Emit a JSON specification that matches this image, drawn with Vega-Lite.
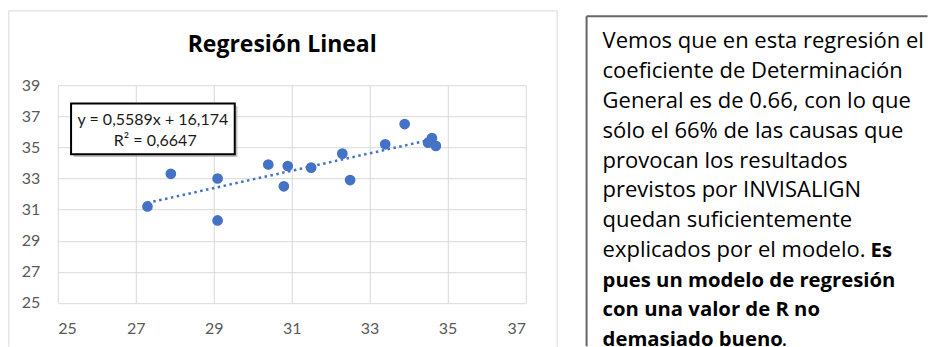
{
  "$schema": "https://vega.github.io/schema/vega-lite/v6.json",
  "padding": {"left": 7.8, "top": 10.2, "right": 0, "bottom": 0},
  "background": "white",
  "spacing": 27.8,
  "config": {"view": {"stroke": null}, "font": "Lato"},
  "datasets": {
    "points": [
      {"x": 27.3, "y": 31.2}, {"x": 27.9, "y": 33.3}, {"x": 29.1, "y": 33.0},
      {"x": 29.1, "y": 30.3}, {"x": 30.4, "y": 33.9}, {"x": 30.9, "y": 33.8},
      {"x": 30.8, "y": 32.5}, {"x": 31.5, "y": 33.7}, {"x": 32.3, "y": 34.6},
      {"x": 32.5, "y": 32.9}, {"x": 33.4, "y": 35.2}, {"x": 33.9, "y": 36.5},
      {"x": 34.5, "y": 35.3}, {"x": 34.6, "y": 35.6}, {"x": 34.7, "y": 35.1}
    ],
    "notes": [
      {"line": 1, "text": "Vemos que en esta regresión el", "part": "normal"},
      {"line": 2, "text": "coeficiente de Determinación", "part": "normal"},
      {"line": 3, "text": "General es de 0.66, con lo que", "part": "normal"},
      {"line": 4, "text": "sólo  el 66% de las causas que", "part": "normal"},
      {"line": 5, "text": "provocan los resultados", "part": "normal"},
      {"line": 6, "text": "previstos por INVISALIGN", "part": "normal"},
      {"line": 7, "text": "quedan suficientemente", "part": "normal"},
      {"line": 8, "text": "explicados por el modelo.", "part": "normal"},
      {"line": 8, "text": "Es", "part": "boldtail"},
      {"line": 9, "text": "pues un modelo de regresión", "part": "bold"},
      {"line": 10, "text": "con una valor de R no", "part": "bold"},
      {"line": 11, "text": "demasiado bueno", "part": "bold"},
      {"line": 11, "text": ".", "part": "normaltail"}
    ]
  },
  "hconcat": [
    {
      "width": 467.7,
      "height": 217.7,
      "layer": [
        {
          "data": {"name": "points"},
          "mark": {"type": "circle", "size": 0, "opacity": 0},
          "encoding": {
            "x": {"field": "x", "type": "quantitative", "scale": {"domain": [25, 37], "nice": false, "zero": false},
              "axis": {"values": [25, 27, 29, 31, 33, 35, 37], "tickCount": 7, "title": null, "grid": true, "gridColor": "#d9d9d9", "gridWidth": 1, "domain": false, "ticks": false, "tickSize": 0, "labelOverlap": false, "labelFont": "Lato", "labelFontSize": 16, "labelColor": "#595959", "labelPadding": 18}},
            "y": {"field": "y", "type": "quantitative", "scale": {"domain": [25, 39], "nice": false, "zero": false},
              "axis": {"values": [25, 27, 29, 31, 33, 35, 37, 39], "tickCount": 8, "title": null, "grid": true, "gridColor": "#d9d9d9", "gridWidth": 1, "domain": false, "ticks": false, "tickSize": 0, "labelOverlap": false, "labelFont": "Lato", "labelFontSize": 16, "labelColor": "#595959", "labelPadding": 18}}
          }
        },
        {
          "data": {"values": [{}]},
          "mark": {"type": "rule", "color": "#d9d9d9", "strokeWidth": 1},
          "encoding": {
            "x": {"datum": 23.743, "type": "quantitative"},
            "x2": {"datum": 37.813},
            "y": {"datum": 43.778, "type": "quantitative"}
          }
        },
        {
          "data": {"values": [{}]},
          "mark": {"type": "rule", "color": "#d9d9d9", "strokeWidth": 1},
          "encoding": {
            "x": {"datum": 23.743, "type": "quantitative"},
            "y": {"datum": 43.778, "type": "quantitative"},
            "y2": {"datum": 22.183}
          }
        },
        {
          "data": {"values": [{}]},
          "mark": {"type": "rule", "color": "#d9d9d9", "strokeWidth": 1},
          "encoding": {
            "x": {"datum": 37.813, "type": "quantitative"},
            "y": {"datum": 43.778, "type": "quantitative"},
            "y2": {"datum": 22.183}
          }
        },
        {
          "data": {"values": [{}]},
          "mark": {"type": "text", "text": "Regresión Lineal", "font": "Open Sans", "fontSize": 23, "fontWeight": "bold", "color": "#000000", "align": "center", "baseline": "alphabetic"},
          "encoding": {
            "x": {"datum": 30.758, "type": "quantitative"},
            "y": {"datum": 41.103, "type": "quantitative"}
          }
        },
        {
          "data": {"name": "points"},
          "transform": [{"regression": "y", "on": "x"}],
          "mark": {"type": "line", "color": "#4472C4", "strokeWidth": 2.5, "strokeDash": [2.5, 3.5], "strokeCap": "butt"},
          "encoding": {
            "x": {"field": "x", "type": "quantitative"},
            "y": {"field": "y", "type": "quantitative"}
          }
        },
        {
          "data": {"name": "points"},
          "mark": {"type": "circle", "size": 115, "color": "#4472C4", "opacity": 1},
          "encoding": {
            "x": {"field": "x", "type": "quantitative"},
            "y": {"field": "y", "type": "quantitative"}
          }
        },
        {
          "data": {"values": [{}]},
          "mark": {"type": "rect", "color": "#7f7f7f", "opacity": 0.45},
          "encoding": {
            "x": {"datum": 25.41, "type": "quantitative"},
            "x2": {"datum": 29.61},
            "y": {"datum": 37.64, "type": "quantitative"},
            "y2": {"datum": 34.38}
          }
        },
        {
          "data": {"values": [{}]},
          "mark": {"type": "rect", "fill": "#ffffff", "stroke": "#000000", "strokeWidth": 2},
          "encoding": {
            "x": {"datum": 25.34, "type": "quantitative"},
            "x2": {"datum": 29.54},
            "y": {"datum": 37.82, "type": "quantitative"},
            "y2": {"datum": 34.56}
          }
        },
        {
          "data": {"values": [{}]},
          "mark": {"type": "text", "text": "y = 0,5589x + 16,174", "font": "Lato", "fontSize": 16, "color": "#1a1a1a", "align": "center", "baseline": "middle"},
          "encoding": {
            "x": {"datum": 27.44, "type": "quantitative"},
            "y": {"datum": 36.75, "type": "quantitative"}
          }
        },
        {
          "data": {"values": [{}]},
          "mark": {"type": "text", "text": "R² = 0,6647", "font": "Lato", "fontSize": 16, "color": "#1a1a1a", "align": "center", "baseline": "middle"},
          "encoding": {
            "x": {"datum": 27.5, "type": "quantitative"},
            "y": {"datum": 35.4, "type": "quantitative"}
          }
        }
      ]
    },
    {
      "width": 342,
      "height": 261,
      "data": {"name": "notes"},
      "layer": [
        {
          "data": {"values": [{}]},
          "mark": {"type": "rule", "color": "#666666", "strokeWidth": 2},
          "encoding": {
            "x": {"datum": 0, "type": "quantitative", "scale": {"domain": [0, 1], "nice": false, "zero": false}, "axis": null},
            "y": {"datum": -0.085, "type": "quantitative", "scale": {"domain": [2.233, 11.0], "reverse": true, "nice": false, "zero": false}, "axis": null},
            "y2": {"datum": 11.0}
          }
        },
        {
          "data": {"values": [{}]},
          "mark": {"type": "rule", "color": "#666666", "strokeWidth": 2},
          "encoding": {
            "x": {"datum": 0, "type": "quantitative", "axis": null},
            "x2": {"datum": 0.997},
            "y": {"datum": -0.085, "type": "quantitative", "axis": null}
          }
        },
        {
          "transform": [{"filter": "datum.part === 'normal'"}],
          "mark": {"type": "text", "font": "Open Sans", "fontSize": 22, "color": "#000000", "align": "left", "baseline": "alphabetic", "dx": 16},
          "encoding": {
            "x": {"datum": 0, "type": "quantitative", "axis": null},
            "y": {"field": "line", "type": "quantitative", "axis": null},
            "text": {"field": "text"}
          }
        },
        {
          "transform": [{"filter": "datum.part === 'bold'"}],
          "mark": {"type": "text", "font": "Open Sans", "fontSize": 20.3, "fontWeight": "bold", "color": "#000000", "align": "left", "baseline": "alphabetic", "dx": 16},
          "encoding": {
            "x": {"datum": 0, "type": "quantitative", "axis": null},
            "y": {"field": "line", "type": "quantitative", "axis": null},
            "text": {"field": "text"}
          }
        },
        {
          "transform": [{"filter": "datum.part === 'boldtail'"}],
          "mark": {"type": "text", "font": "Open Sans", "fontSize": 20.3, "fontWeight": "bold", "color": "#000000", "align": "left", "baseline": "alphabetic", "dx": 284},
          "encoding": {
            "x": {"datum": 0, "type": "quantitative", "axis": null},
            "y": {"field": "line", "type": "quantitative", "axis": null},
            "text": {"field": "text"}
          }
        },
        {
          "transform": [{"filter": "datum.part === 'normaltail'"}],
          "mark": {"type": "text", "font": "Open Sans", "fontSize": 22, "color": "#000000", "align": "left", "baseline": "alphabetic", "dx": 195},
          "encoding": {
            "x": {"datum": 0, "type": "quantitative", "axis": null},
            "y": {"field": "line", "type": "quantitative", "axis": null},
            "text": {"field": "text"}
          }
        }
      ]
    }
  ]
}
